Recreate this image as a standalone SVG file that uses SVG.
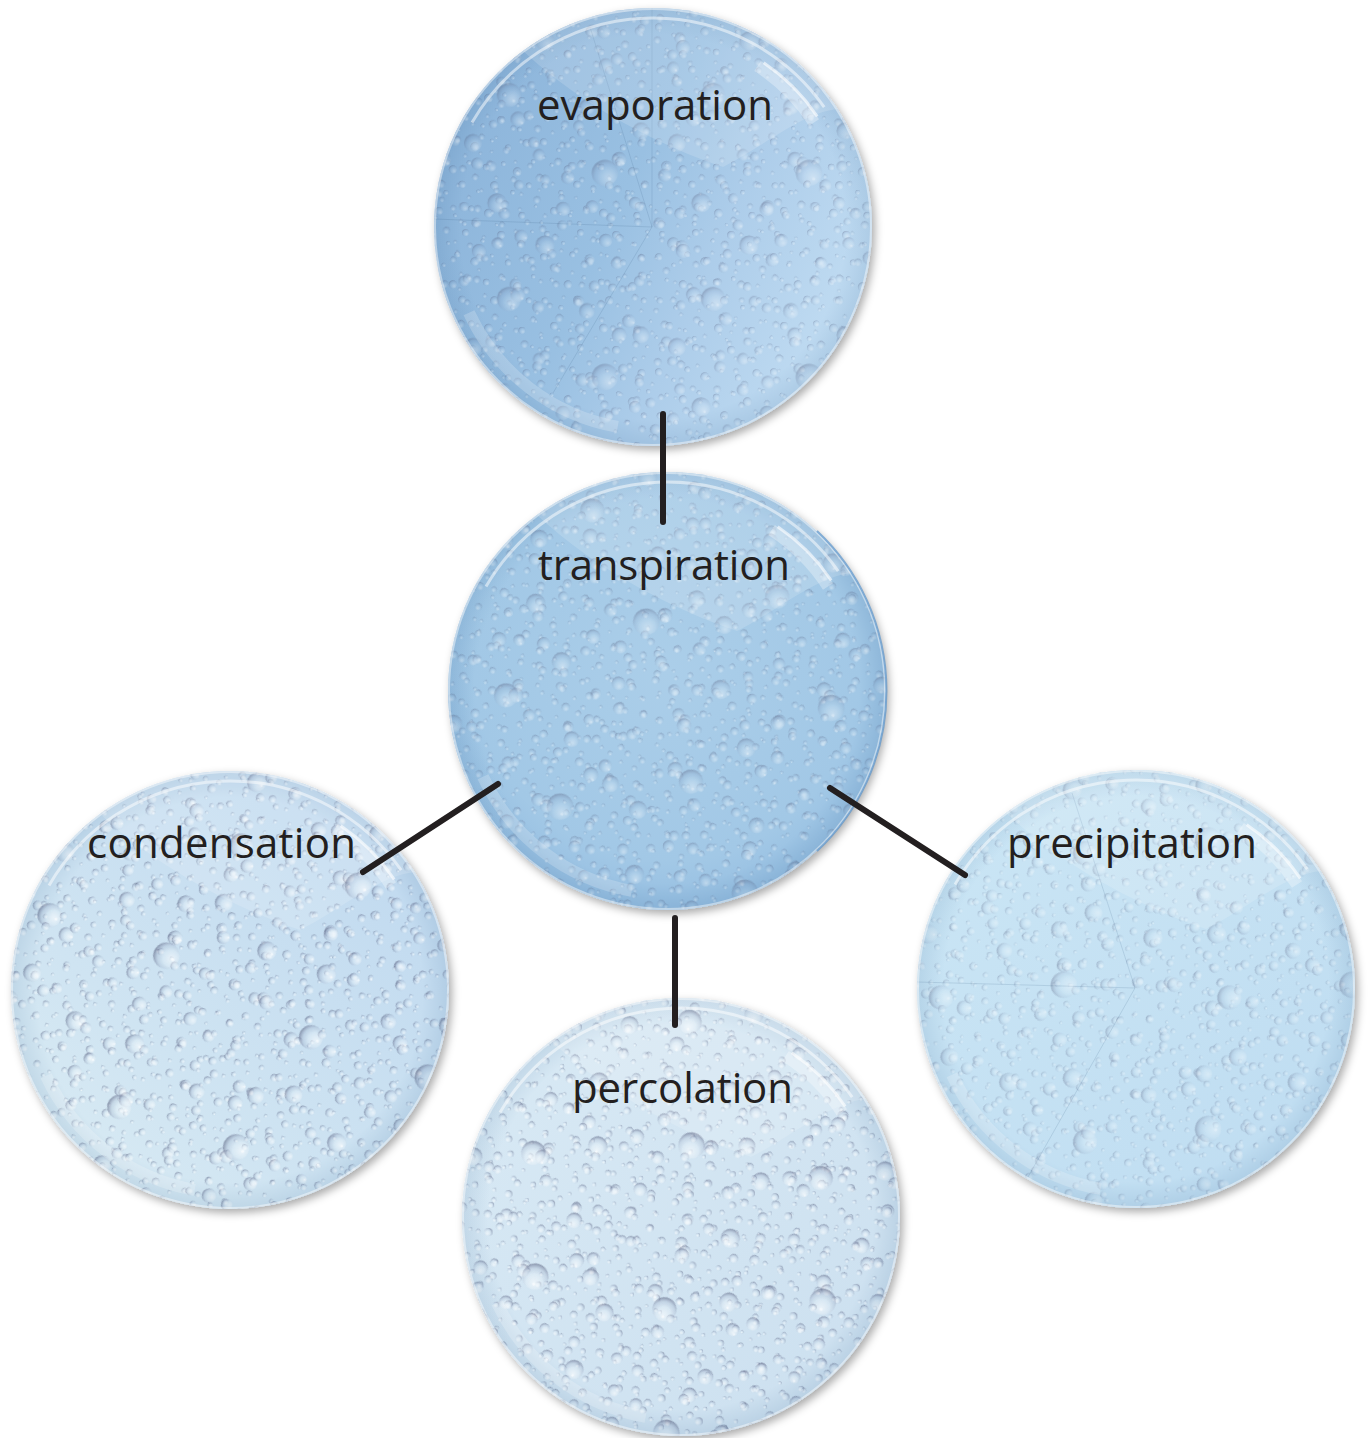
<svg xmlns="http://www.w3.org/2000/svg" xmlns:xlink="http://www.w3.org/1999/xlink" width="1369" height="1438" viewBox="0 0 1369 1438">
<defs>
<style>
  .lbl{font-family:"Open Sans","Noto Sans","Liberation Sans",sans-serif;font-size:42px;fill:#231f20;}
  .link{stroke:#231f20;stroke-width:6;stroke-linecap:round;fill:none;}
  .seam{stroke:#3f6488;stroke-opacity:.16;stroke-width:1;fill:none;}
  .hl{fill:none;stroke:#fff;}
</style>

<!-- single water drop: dark crescent upper-left, bright lower-right -->
<radialGradient id="drop" cx="0.6" cy="0.62" r="0.62" fx="0.66" fy="0.7">
  <stop offset="0" stop-color="#ffffff" stop-opacity="0.65"/>
  <stop offset="0.5" stop-color="#ffffff" stop-opacity="0.2"/>
  <stop offset="0.78" stop-color="#7d86a6" stop-opacity="0.18"/>
  <stop offset="1" stop-color="#545b7a" stop-opacity="0.55"/>
</radialGradient>

<!-- drop textures at three scales -->
<pattern id="dropsS" width="100" height="100" patternUnits="userSpaceOnUse" patternTransform="scale(1.15)">
  <g fill="url(#drop)">
    <circle cx="8" cy="6" r="2.5"/><circle cx="22" cy="14" r="1.8"/><circle cx="37" cy="5" r="3"/>
    <circle cx="52" cy="12" r="2"/><circle cx="68" cy="7" r="3.5"/><circle cx="84" cy="15" r="2.2"/>
    <circle cx="95" cy="4" r="1.6"/><circle cx="5" cy="26" r="3.2"/><circle cx="18" cy="33" r="2"/>
    <circle cx="30" cy="24" r="2.6"/><circle cx="45" cy="30" r="3.8"/><circle cx="60" cy="25" r="1.8"/>
    <circle cx="74" cy="31" r="2.8"/><circle cx="90" cy="27" r="3.4"/><circle cx="12" cy="46" r="1.9"/>
    <circle cx="26" cy="50" r="3.6"/><circle cx="40" cy="44" r="2.1"/><circle cx="55" cy="48" r="2.9"/>
    <circle cx="70" cy="45" r="2.2"/><circle cx="82" cy="52" r="3.9"/><circle cx="96" cy="43" r="2"/>
    <circle cx="6" cy="64" r="2.8"/><circle cx="20" cy="70" r="2.2"/><circle cx="34" cy="63" r="3.3"/>
    <circle cx="48" cy="69" r="1.7"/><circle cx="62" cy="64" r="3.7"/><circle cx="78" cy="70" r="2.1"/>
    <circle cx="92" cy="64" r="2.6"/><circle cx="14" cy="86" r="3.4"/><circle cx="28" cy="90" r="1.8"/>
    <circle cx="42" cy="84" r="2.7"/><circle cx="57" cy="88" r="3.9"/><circle cx="71" cy="85" r="2"/>
    <circle cx="86" cy="90" r="3"/><circle cx="98" cy="82" r="1.5"/><circle cx="3" cy="96" r="1.6"/>
    <circle cx="36" cy="97" r="2.2"/><circle cx="64" cy="98" r="1.5"/>
  </g>
</pattern>
<pattern id="dropsS2" href="#dropsS" patternTransform="rotate(37) translate(23 41)"/>
<pattern id="dropsM" width="130" height="130" patternUnits="userSpaceOnUse" patternTransform="scale(1.35)">
  <g fill="url(#drop)">
    <circle cx="15" cy="12" r="4.5"/><circle cx="55" cy="20" r="3.5"/><circle cx="95" cy="10" r="5"/>
    <circle cx="120" cy="40" r="4"/><circle cx="30" cy="50" r="5.5"/><circle cx="75" cy="55" r="4"/>
    <circle cx="105" cy="80" r="5.5"/><circle cx="10" cy="85" r="4"/><circle cx="50" cy="95" r="3.8"/>
    <circle cx="85" cy="115" r="4.8"/><circle cx="20" cy="120" r="4.2"/><circle cx="120" cy="115" r="3.5"/>
    <circle cx="70" cy="85" r="3"/><circle cx="40" cy="25" r="2.8"/><circle cx="100" cy="45" r="3"/>
  </g>
  <g fill="#fff" fill-opacity="0.7">
    <circle cx="17" cy="14" r="0.8"/><circle cx="33" cy="53" r="0.9"/><circle cx="108" cy="83" r="0.9"/>
  </g>
</pattern>
<pattern id="dropsM2" href="#dropsM" patternTransform="rotate(-23) translate(61 17) scale(1.2)"/>
<pattern id="dropsL" width="170" height="170" patternUnits="userSpaceOnUse" patternTransform="scale(1.2)">
  <g fill="url(#drop)">
    <circle cx="25" cy="20" r="6"/><circle cx="80" cy="15" r="8"/><circle cx="140" cy="30" r="5"/>
    <circle cx="50" cy="60" r="10"/><circle cx="115" cy="70" r="6.5"/><circle cx="160" cy="90" r="7"/>
    <circle cx="20" cy="100" r="7.5"/><circle cx="75" cy="110" r="5"/><circle cx="130" cy="125" r="11"/>
    <circle cx="40" cy="150" r="8"/><circle cx="95" cy="155" r="6"/><circle cx="155" cy="150" r="5"/>
  </g>
  <g fill="#fff" fill-opacity="0.7">
    <circle cx="83" cy="19" r="1"/><circle cx="54" cy="65" r="1.2"/><circle cx="134" cy="130" r="1.3"/>
    <circle cx="43" cy="154" r="1"/>
  </g>
</pattern>

<!-- disc fills -->
<linearGradient id="fillEvap" x1="0.05" y1="0.2" x2="0.95" y2="0.6">
  <stop offset="0" stop-color="#8cb4da"/>
  <stop offset="0.45" stop-color="#99c0e2"/>
  <stop offset="0.7" stop-color="#adcdea"/>
  <stop offset="1" stop-color="#bedaf1"/>
</linearGradient>
<radialGradient id="fillTrans" cx="0.5" cy="0.45" r="0.55">
  <stop offset="0" stop-color="#abcee9"/>
  <stop offset="0.8" stop-color="#a2c8e6"/>
  <stop offset="1" stop-color="#95bee1"/>
</radialGradient>
<linearGradient id="fillCond" x1="0" y1="1" x2="1" y2="0">
  <stop offset="0" stop-color="#dcedf4"/>
  <stop offset="0.35" stop-color="#cfe4f2"/>
  <stop offset="1" stop-color="#bdd7ef"/>
</linearGradient>
<linearGradient id="fillPerc" x1="0" y1="0" x2="1" y2="1">
  <stop offset="0" stop-color="#d9eaf5"/>
  <stop offset="1" stop-color="#cbdfef"/>
</linearGradient>
<linearGradient id="fillPrec" x1="0" y1="0" x2="1" y2="1">
  <stop offset="0" stop-color="#cbe6f5"/>
  <stop offset="1" stop-color="#bedcf1"/>
</linearGradient>
<radialGradient id="edge" cx="0.5" cy="0.5" r="0.5">
  <stop offset="0.88" stop-color="#2d5f8f" stop-opacity="0"/>
  <stop offset="1" stop-color="#2d5f8f" stop-opacity="0.12"/>
</radialGradient>

<clipPath id="disc"><circle r="219"/></clipPath>

<filter id="shadow" x="-10%" y="-10%" width="125%" height="125%">
  <feDropShadow dx="3" dy="4" stdDeviation="4" flood-color="#000" flood-opacity="0.33"/>
</filter>

<!-- glossy glass highlights shared by every disc -->
<g id="gloss">
  <circle r="219" fill="url(#edge)"/>
  <path d="M -130 -176 C -70 -120 10 -80 70 -60 C 110 -80 150 -115 185 -118 L 185 -230 L -130 -230 Z" fill="#fff" fill-opacity="0.15" clip-path="url(#disc)"/>
  <path class="hl" d="M -181 -104.5 A 209 209 0 0 1 171.2 -119.9" stroke-opacity="0.5" stroke-width="3"/>
  <path class="hl" d="M 104.6 -161 A 192 192 0 0 1 161 -104.6" stroke-opacity="0.3" stroke-width="12"/>
  <path class="hl" d="M 110.7 -164.2 A 198 198 0 0 1 164.2 -110.7" stroke-opacity="0.6" stroke-width="3"/>
  <path class="hl" d="M -35.3 199.9 A 203 203 0 0 1 -184 85.8" stroke-opacity="0.2" stroke-width="12"/>
  <circle class="hl" r="218" stroke-opacity="0.45" stroke-width="2"/>
</g>

<g id="texture">
  <rect x="-219" y="-219" width="438" height="438" fill="url(#dropsS)"/>
  <rect x="-219" y="-219" width="438" height="438" fill="url(#dropsS2)"/>
  <rect x="-219" y="-219" width="438" height="438" fill="url(#dropsM)"/>
  <rect x="-219" y="-219" width="438" height="438" fill="url(#dropsM2)"/>
  <rect x="-219" y="-219" width="438" height="438" fill="url(#dropsL)"/>
</g>
</defs>

<rect width="1369" height="1438" fill="#ffffff"/>

<!-- evaporation -->
<g id="node-evaporation">
  <g transform="translate(653 227)">
    <circle r="219" fill="url(#fillEvap)" filter="url(#shadow)"/>
    <g clip-path="url(#disc)" opacity="0.55"><use href="#texture"/></g>
    <path class="seam" d="M -1 0 L -1 -219 M -1 0 L -63 -200 M -1 0 L -219 -8 M -1 0 L -100 166"/>
    <use href="#gloss"/>
  </g>
  <text class="lbl" x="537" y="120" textLength="236">evaporation</text>
</g>

<!-- transpiration -->
<g id="node-transpiration">
  <g transform="translate(667 691)">
    <circle r="219" fill="url(#fillTrans)" filter="url(#shadow)"/>
    <g clip-path="url(#disc)" transform="rotate(25)" opacity="0.6"><use href="#texture"/></g>
    <use href="#gloss"/>
    <path d="M 150 -160 A 219 219 0 0 1 150 160" fill="none" stroke="#5b95cd" stroke-opacity="0.7" stroke-width="2"/>
  </g>
  <text class="lbl" x="538" y="580" textLength="252">transpiration</text>
</g>

<!-- condensation -->
<g id="node-condensation">
  <g transform="translate(230 990)">
    <circle r="219" fill="url(#fillCond)" filter="url(#shadow)"/>
    <g clip-path="url(#disc)" transform="rotate(-20)" opacity="0.9"><use href="#texture"/></g>
    <use href="#gloss"/>
  </g>
  <text class="lbl" x="87" y="858" textLength="269">condensation</text>
</g>

<!-- percolation -->
<g id="node-percolation">
  <g transform="translate(681 1217)">
    <circle r="219" fill="url(#fillPerc)" filter="url(#shadow)"/>
    <g clip-path="url(#disc)" transform="rotate(50)" opacity="0.9"><use href="#texture"/></g>
    <use href="#gloss"/>
  </g>
  <text class="lbl" x="572" y="1103" textLength="221">percolation</text>
</g>

<!-- precipitation -->
<g id="node-precipitation">
  <g transform="translate(1136 989)">
    <circle r="219" fill="url(#fillPrec)" filter="url(#shadow)"/>
    <g clip-path="url(#disc)" transform="rotate(-45)" opacity="0.55"><use href="#texture"/></g>
    <path class="seam" d="M -1 -1 L -64 -196 M -1 -1 L -219 -7 M -1 -1 L -108 188"/>
    <use href="#gloss"/>
  </g>
  <text class="lbl" x="1007" y="858" textLength="250">precipitation</text>
</g>

<!-- connectors -->
<g id="connectors">
  <line class="link" x1="663" y1="414" x2="663" y2="522"/>
  <line class="link" x1="498" y1="784" x2="363" y2="872"/>
  <line class="link" x1="830" y1="788" x2="965" y2="875"/>
  <line class="link" x1="675" y1="918" x2="675" y2="1025"/>
</g>
</svg>
